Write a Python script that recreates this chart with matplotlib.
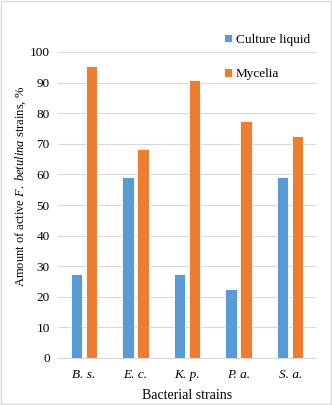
import numpy as np
import matplotlib.pyplot as plt

strains = ['B. s.', 'E. c.', 'K. p.', 'P. a.', 'S. a.']
culture_liquid = [27.3, 59.1, 27.3, 22.7, 59.1]
mycelia = [95.5, 68.2, 90.9, 77.3, 72.7]
yticks = list(range(0, 101, 10))

plt.rcParams['font.family'] = ['Liberation Serif']
plt.rcParams['mathtext.fontset'] = 'custom'
plt.rcParams['mathtext.it'] = 'Liberation Serif:italic'
plt.rcParams['mathtext.rm'] = 'Liberation Serif'

fig = plt.figure(figsize=(3.32, 4.05), dpi=100)
ax = fig.add_axes([58/332, 47/405, 258/332, 306/405])

x = np.arange(len(strains))
w = 0.22
gap = 0.035
ax.bar(x - w/2 - gap, culture_liquid, w, color='#5B9BD5', edgecolor='white', linewidth=0.6, label='Culture liquid', zorder=3)
ax.bar(x + w/2 + gap, mycelia, w, color='#ED7D31', edgecolor='white', linewidth=0.6, label='Mycelia', zorder=3)

ax.set_xlim(-0.5, len(strains) - 0.5)
ax.set_ylim(0, 100)
ax.set_yticks(yticks)
ax.set_xticks(x)
ax.set_xticklabels(strains, fontstyle='italic')
ax.tick_params(axis='both', length=0, labelsize=9.5, colors='#000000')
ax.tick_params(axis='y', pad=6)
ax.tick_params(axis='x', pad=8)
ax.yaxis.grid(True, color='#D9D9D9', linewidth=0.8, zorder=0)
for s in ['top', 'right', 'left']:
    ax.spines[s].set_visible(False)
ax.spines['bottom'].set_color('#D9D9D9')

ax.set_xlabel('Bacterial strains', fontsize=10, labelpad=6)
ax.set_ylabel(r'Amount of active $\mathit{F.\ betulina}$ strains, %', fontsize=9)
ax.yaxis.set_label_coords(-0.118, 0.56)

fig.legend(loc='upper left', bbox_to_anchor=(212/332, 1 - 22/405), frameon=False,
           fontsize=9.5, handlelength=0.6, handleheight=0.6, handletextpad=0.3,
           labelspacing=1.7)

fig.patches.append(plt.Rectangle((0.003, 0.003), 0.994, 0.994, transform=fig.transFigure,
                                 fill=False, edgecolor='#D9D9D9', linewidth=1))

fig.savefig('out.png', dpi=100)
